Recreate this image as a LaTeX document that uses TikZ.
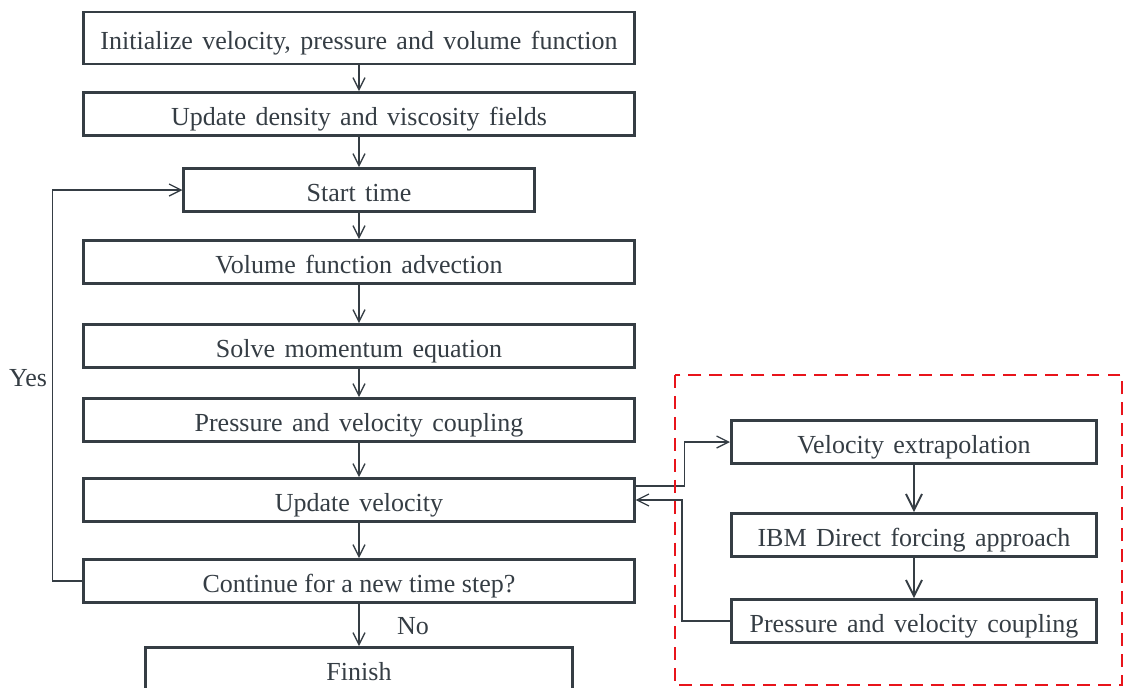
\documentclass[tikz,border=0pt]{standalone}
\usepackage{fontspec}
\setmainfont{Liberation Serif}[WordSpace=1.45]
\newfontfamily\plainserif{Liberation Serif}
\usetikzlibrary{arrows.meta}
\definecolor{ink}{HTML}{353D44}
\definecolor{ibmred}{HTML}{E8141B}
\begin{document}
\begin{tikzpicture}[x=0.025cm, y=-0.025cm,
    box/.style={draw=ink, line width=2.1pt, text=ink, minimum width=13.75cm, minimum height=1.075cm, inner sep=0pt, text height=16pt, text depth=0pt, font=\fontsize{18.5}{22}\selectfont},
    link/.style={draw=ink, line width=0.9pt, -{Straight Barb[length=3mm, width=3mm]}},
    lab/.style={text=ink, font=\fontsize{18.5}{22}\selectfont}]
    \useasboundingbox (0,0) rectangle (1123,687);
    \node[box, minimum height=1.3cm](init) at (359,38){Initialize velocity, pressure and volume function};
    \node[box](dens) at (359,114){Update density and viscosity fields};
    \node[box, minimum width=8.75cm](start) at (359,190){Start time};
    \node[box](adv) at (359,262){Volume function advection};
    \node[box](mom) at (359,346){Solve momentum equation};
    \node[box](coup) at (359,420){Pressure and velocity coupling};
    \node[box](upd) at (359,500){Update velocity};
    \node[box](cont) at (359,581){\plainserif Continue for a new time step?};
    \node[box, minimum width=10.65cm](fin) at (359,669){Finish};
    \node[box, minimum width=9.125cm](vext) at (914,442){Velocity extrapolation};
    \node[box, minimum width=9.125cm](ibm) at (914,535){IBM Direct forcing approach};
    \node[box, minimum width=9.125cm](coupb) at (914,621){Pressure and velocity coupling};
    \draw[link](init)--(dens);
    \draw[link](dens)--(start);
    \draw[link](start)--(adv);
    \draw[link](adv)--(mom);
    \draw[link](mom)--(coup);
    \draw[link](coup)--(upd);
    \draw[link](upd)--(cont);
    \draw[link](cont)--(fin);
    \draw[link](cont.west)--++(-30,0)|-(start.west);
    \draw[link]([yshift=0.35cm]upd.east)--++(49,0)|-(vext.west);
    \draw[link](coupb.west)--++(-48,0)|-(upd.east);
    \draw[link, line width=1.3pt, -{Straight Barb[length=4mm, width=4mm]}](vext)--(ibm);
    \draw[link, line width=1.3pt, -{Straight Barb[length=4mm, width=4mm]}](ibm)--(coupb);
    \node[lab](yes) at (28,378){Yes};
    \node[lab](no) at (413,626){No};
    \draw[ibmred, line width=2.1pt, dash pattern=on 9.2pt off 5.7pt](675,375) rectangle (1122,685);
\end{tikzpicture}
\end{document}
